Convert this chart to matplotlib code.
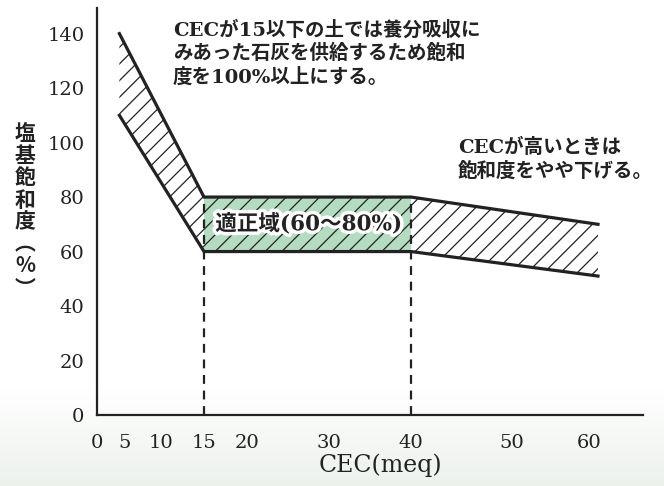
import numpy as np
import matplotlib
matplotlib.use("Agg")
import matplotlib.pyplot as plt
import matplotlib.patheffects as pe

# ---- data ----
cec = [4, 15, 40, 61]
upper = [140, 80, 80, 70]
lower = [110, 60, 60, 51]
opt_x = [15, 40]
opt_low = 60
opt_high = 80
xticks = [0, 5, 10, 15, 20, 30, 40, 50, 60]
yticks = [0, 20, 40, 60, 80, 100, 120, 140]
ylabel_chars = ["塩", "基", "飽", "和", "度", "︵", "%", "︶"]
xlabel = "CEC(meq)"
note1 = "CECが15以下の土では養分吸収に\nみあった石灰を供給するため飽和\n度を100%以上にする。"
note2 = "CECが高いときは\n飽和度をやや下げる。"
opt_label = "適正域(60〜80%)"

# non-uniform axis (piecewise linear) as drawn in the original
brk_val = [0, 5, 10, 15, 20, 30, 40, 50, 60, 66]
brk_pos = [97, 125, 161, 204, 247, 329, 411, 512, 589, 643]

def fwd(x):
    return np.interp(x, brk_val, brk_pos)

def inv(y):
    return np.interp(y, brk_pos, brk_val)

FAM = ["DejaVu Serif", "Noto Sans CJK JP"]
plt.rcParams["font.family"] = FAM
plt.rcParams["hatch.linewidth"] = 0.9

W, H = 664, 486
fig = plt.figure(figsize=(W / 100, H / 100), dpi=100)

# faint background gradient at the bottom
bg = fig.add_axes([0, 0, 1, 1], zorder=-10)
grad = np.linspace(0, 1, 200)[:, None]
alpha = np.clip((grad - 0.80) / 0.20, 0, 1)
img = np.ones((200, 2, 4))
img[..., 0] = 0.91
img[..., 1] = 0.935
img[..., 2] = 0.91
img[..., 3] = alpha[:, 0:1] * np.ones((1, 2)) * 0.8
bg.imshow(img, extent=[0, 1, 0, 1], aspect="auto", origin="upper")
bg.set_axis_off()

ax = fig.add_axes([97 / W, 1 - 415 / H, (643 - 97) / W, (415 - 8) / H])
ax.set_facecolor("none")
ax.set_xscale("function", functions=(fwd, inv))
ax.set_xlim(0, 66)
ax.set_ylim(0, 149.4)

dark = "#222222"

# hatched regions
ax.fill_between(cec[:2], lower[:2], upper[:2], facecolor="white",
                edgecolor=dark, hatch="//", linewidth=0, zorder=1)
ax.fill_between(opt_x, [opt_low] * 2, [opt_high] * 2, facecolor="#b4dcc0",
                edgecolor=dark, hatch="//", linewidth=0, zorder=1)
ax.fill_between(cec[2:], lower[2:], upper[2:], facecolor="white",
                edgecolor=dark, hatch="//", linewidth=0, zorder=1)

# dashed guides
ax.vlines(opt_x, 0, opt_high, colors=dark, linestyles=(0, (4, 3)),
          linewidth=1.6, zorder=2)

# boundary lines
ax.plot(cec, upper, color=dark, linewidth=2.3, zorder=3, solid_joinstyle="miter")
ax.plot(cec, lower, color=dark, linewidth=2.3, zorder=3, solid_joinstyle="miter")

ax.text(27.5, 70, opt_label, ha="center", va="center", fontsize=15.5,
        fontweight="bold", color=dark, zorder=4,
        path_effects=[pe.withStroke(linewidth=5, foreground="white")])

for s in ["top", "right"]:
    ax.spines[s].set_visible(False)
for s in ["left", "bottom"]:
    ax.spines[s].set_color(dark)
    ax.spines[s].set_linewidth(1.6)

ax.set_xticks(xticks)
ax.set_xticklabels([str(v) for v in xticks])
ax.set_yticks(yticks)
ax.set_yticklabels([str(v) for v in yticks])
ax.tick_params(axis="both", length=0, labelsize=14, colors=dark)
ax.tick_params(axis="y", pad=9)
ax.tick_params(axis="x", pad=14)

# x label
fig.text(380 / W, 1 - 465 / H, xlabel, ha="center", va="center",
         fontsize=17, color=dark)

# y label stacked vertically
y0 = 134
for i, ch in enumerate(ylabel_chars):
    fig.text(25 / W, 1 - (y0 + i * 22) / H, ch, ha="center", va="center",
             fontsize=15, fontweight="bold", color=dark,
             family=["Noto Sans CJK JP", "DejaVu Serif"])

fig.text(173 / W, 1 - 20 / H, note1, ha="left", va="top", fontsize=14,
         fontweight="bold", color=dark, linespacing=1.3)
fig.text(458 / W, 1 - 138 / H, note2, ha="left", va="top", fontsize=14,
         fontweight="bold", color=dark, linespacing=1.3)

fig.savefig("out.png", dpi=100)
